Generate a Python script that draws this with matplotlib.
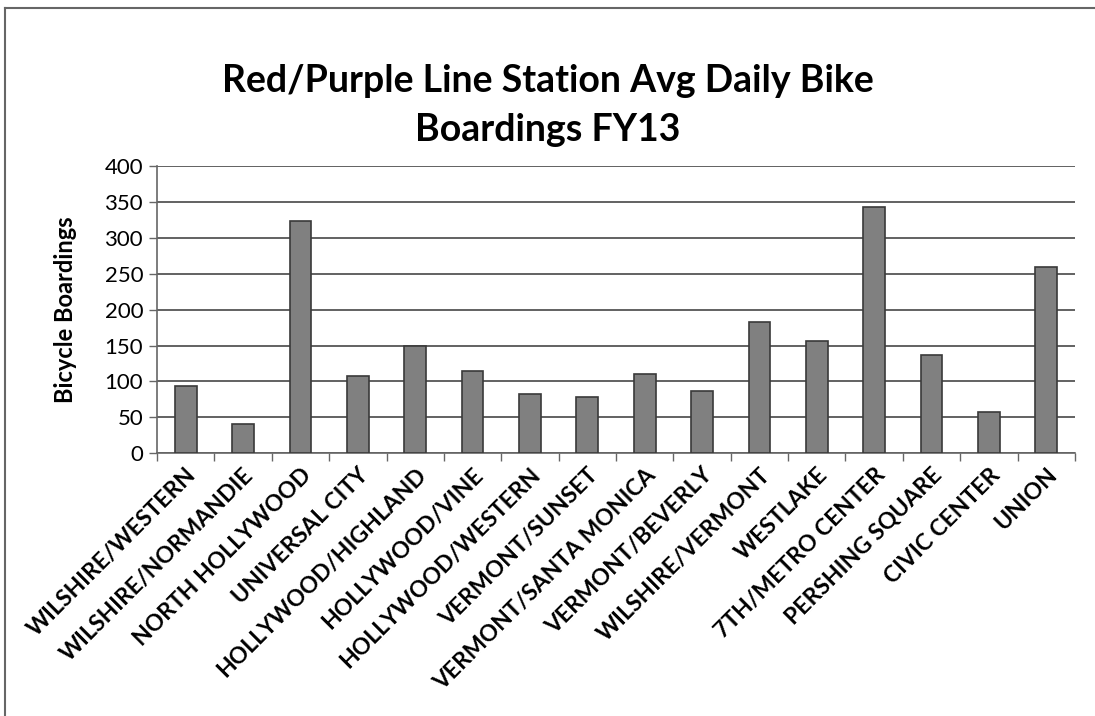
import matplotlib.pyplot as plt
from matplotlib.lines import Line2D
import numpy as np

plt.rcParams['font.family'] = ['Lato', 'DejaVu Sans']

# Station data
stations = ['WILSHIRE/WESTERN', 'WILSHIRE/NORMANDIE', 'NORTH HOLLYWOOD',
            'UNIVERSAL CITY', 'HOLLYWOOD/HIGHLAND', 'HOLLYWOOD/VINE',
            'HOLLYWOOD/WESTERN', 'VERMONT/SUNSET', 'VERMONT/SANTA MONICA',
            'VERMONT/BEVERLY', 'WILSHIRE/VERMONT', 'WESTLAKE',
            '7TH/METRO CENTER', 'PERSHING SQUARE', 'CIVIC CENTER', 'UNION']
boardings = [93, 41, 324, 108, 150, 115, 83, 78, 111, 87, 183, 156, 343, 137, 58, 260]

fig = plt.figure(figsize=(10.95, 7.16), dpi=100)
ax = fig.add_axes([0.1434, 0.367, 0.8383, 0.401])

x = np.arange(len(stations))
ax.bar(x, boardings, width=0.38, color='#808080', edgecolor='#3a3a3a',
       linewidth=1.2, zorder=3)

ax.set_xlim(-0.5, len(stations) - 0.5)
ax.set_ylim(0, 400)
ax.set_yticks(np.arange(0, 401, 50))
ax.yaxis.grid(True, color='#555555', linewidth=1.3, zorder=0)
ax.tick_params(axis='y', labelsize=16, length=6, width=1, color='#666666',
               pad=4)

# category boundary ticks on x axis
ax.set_xticks(np.arange(-0.5, len(stations), 1.0))
ax.set_xticklabels([])
ax.tick_params(axis='x', length=6, width=1, color='#666666')
ax.set_xticks(x, minor=True)
ax.set_xticklabels(stations, minor=True, rotation=45, ha='right',
                   rotation_mode='anchor', fontsize=16.5, fontweight='bold')
ax.tick_params(axis='x', which='minor', length=0, pad=8)

for s in ['top', 'right']:
    ax.spines[s].set_visible(False)
ax.spines['left'].set_color('#666666')
ax.spines['bottom'].set_color('#666666')
ax.spines['left'].set_linewidth(1.2)
ax.spines['bottom'].set_linewidth(1.2)

ax.set_ylabel('Bicycle Boardings', fontsize=17, fontweight='bold', labelpad=20)

fig.text(0.5, 0.853, 'Red/Purple Line Station Avg Daily Bike\nBoardings FY13',
         ha='center', va='center', fontsize=27, fontweight='bold',
         linespacing=1.55)

# outer frame (top and left)
fig.add_artist(Line2D([0.005, 1.0], [0.989, 0.989], color='#666666', lw=1.5,
                      transform=fig.transFigure))
fig.add_artist(Line2D([0.005, 0.005], [0.0, 0.989], color='#666666', lw=1.5,
                      transform=fig.transFigure))

fig.savefig('out.png', dpi=100, facecolor='white')
